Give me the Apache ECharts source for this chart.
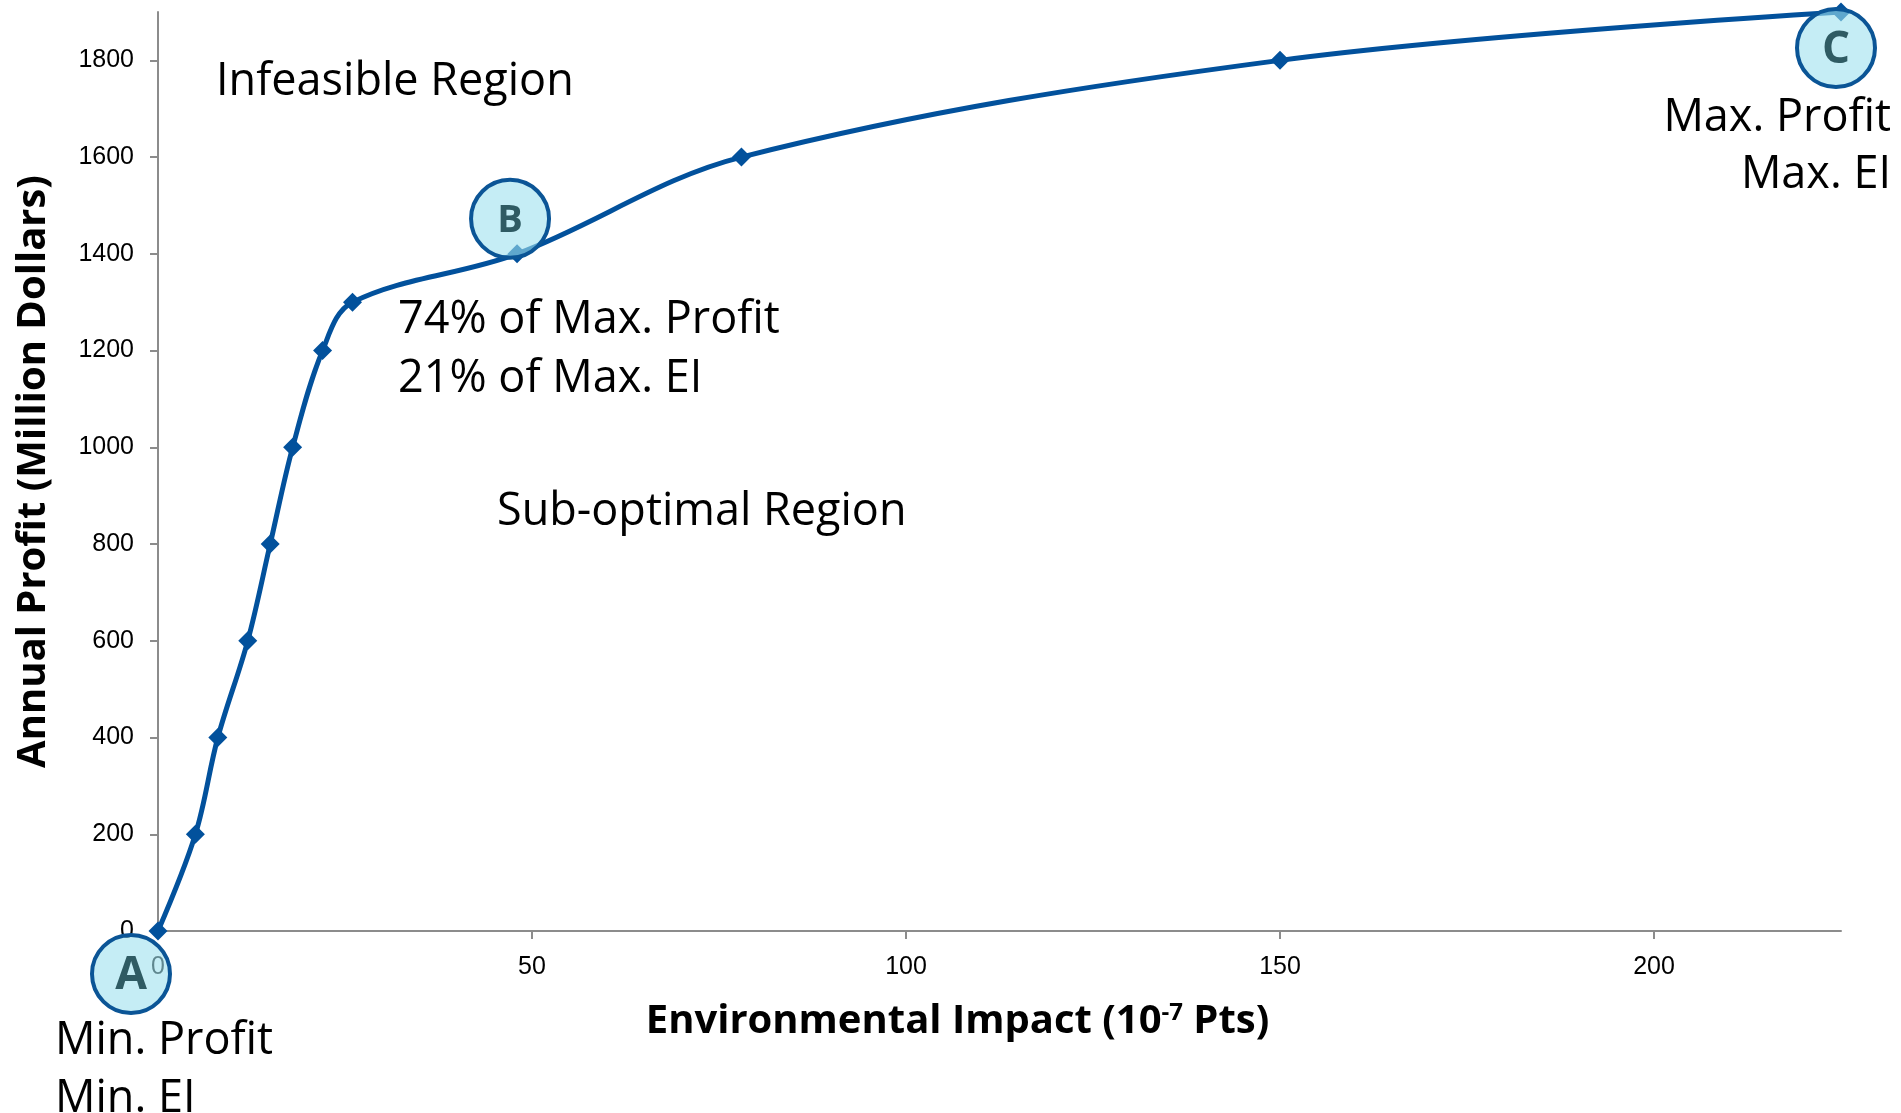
<!DOCTYPE html>
<html>
<head>
<meta charset="utf-8">
<script src="https://cdn.jsdelivr.net/npm/echarts@6/dist/echarts.min.js"></script>
<style>
html,body{margin:0;padding:0;background:#fff;}
#chart{width:1901px;height:1113px;}
</style>
</head>
<body>
<div id="chart"></div>
<script>
// ---- Data ----
var environmentalImpact = [0, 5, 8, 12, 15, 18, 22, 26, 48, 78, 150, 225];
var annualProfit       = [0, 200, 400, 600, 800, 1000, 1200, 1300, 1400, 1600, 1800, 1900];
var xTicks = [0, 50, 100, 150, 200];
var yTicks = [0, 200, 400, 600, 800, 1000, 1200, 1400, 1600, 1800];
var badgeLetters = ['A', 'B', 'C'];
var badgePointIndex = [0, 8, 11];

// ---- Layout / style config ----
var badgeStyle = {
  offsets: [[-27, 43], [-7, -35], [-5, 36]],
  fontSizes: [46, 38, 44],
  radius: 39
};
var LINE = '#02519c';

var chart = echarts.init(document.getElementById('chart'), null, {renderer: 'canvas'});

var lineData = environmentalImpact.map(function (x, i) { return [x, annualProfit[i]]; });
var badgeData = badgePointIndex.map(function (idx, i) {
  return [environmentalImpact[idx], annualProfit[idx], i];
});

function txt(text, x, y, align) {
  return {
    type: 'text', x: x, y: y + 4, z: 10,
    style: {
      text: text, align: align || 'left', verticalAlign: 'middle',
      font: '45px "Open Sans"', fill: '#000'
    }
  };
}
function plain(v) { return String(v); }

var option = {
  animation: false,
  backgroundColor: '#fff',
  grid: {left: 158, right: 60, top: 12, bottom: 182, containLabel: false},
  xAxis: {
    type: 'value', min: 0, max: 225, interval: 50,
    name: '{b|Environmental Impact (10}{s|-7}{b| Pts)}',
    nameLocation: 'middle', nameGap: 70,
    nameTextStyle: {
      padding: [0, 84, 0, 0],
      rich: {
        b: {fontFamily: 'Open Sans', fontWeight: 'bold', fontSize: 40, color: '#000'},
        s: {fontFamily: 'Open Sans', fontWeight: 'bold', fontSize: 24, color: '#000', verticalAlign: 'top', padding: [0, 0, 18, 0]}
      }
    },
    axisLine: {lineStyle: {color: '#8c8c8c', width: 2}},
    axisTick: {show: true, length: 8, customValues: xTicks, lineStyle: {color: '#8c8c8c', width: 2}},
    axisLabel: {customValues: xTicks, formatter: plain, margin: 24, fontFamily: 'Liberation Sans', fontSize: 25, color: '#000'},
    splitLine: {show: false}
  },
  yAxis: {
    type: 'value', min: 0, max: 1900, interval: 200,
    name: 'Annual Profit (Million Dollars)',
    nameLocation: 'middle', nameGap: 104,
    nameTextStyle: {fontFamily: 'Open Sans', fontWeight: 'bold', fontSize: 40, color: '#000'},
    axisLine: {show: true, lineStyle: {color: '#8c8c8c', width: 2}},
    axisTick: {show: true, length: 8, customValues: yTicks, lineStyle: {color: '#8c8c8c', width: 2}},
    axisLabel: {customValues: yTicks, formatter: plain, margin: 24, fontFamily: 'Liberation Sans', fontSize: 25, color: '#000'},
    splitLine: {show: false}
  },
  series: [
    {
      type: 'line',
      data: lineData,
      smooth: 0.35,
      clip: false,
      symbol: 'diamond',
      symbolSize: 19,
      lineStyle: {color: LINE, width: 5},
      itemStyle: {color: LINE},
      z: 3
    },
    {
      type: 'custom',
      coordinateSystem: 'cartesian2d',
      clip: false,
      z: 5,
      data: badgeData,
      renderItem: function (params, api) {
        var i = api.value(2);
        var p = api.coord([api.value(0), api.value(1)]);
        var cx = p[0] + badgeStyle.offsets[i][0];
        var cy = p[1] + badgeStyle.offsets[i][1];
        return {
          type: 'group',
          children: [
            {type: 'circle', shape: {cx: cx, cy: cy, r: badgeStyle.radius},
             style: {fill: 'rgba(158,225,238,0.6)', stroke: '#0b5596', lineWidth: 4}},
            {type: 'text', x: cx, y: cy + 2,
             style: {text: badgeLetters[i], align: 'center', verticalAlign: 'middle',
                     font: 'bold ' + badgeStyle.fontSizes[i] + 'px "Open Sans"', fill: '#2f5b63'}}
          ]
        };
      }
    }
  ],
  graphic: [
    txt('Infeasible Region', 216, 78),
    txt('74% of Max. Profit', 398, 316),
    txt('21% of Max. EI', 398, 375),
    txt('Sub-optimal Region', 497, 508),
    txt('Max. Profit', 1891, 114, 'right'),
    txt('Max. EI', 1891, 171, 'right'),
    txt('Min. Profit', 55, 1037),
    txt('Min. EI', 55, 1095)
  ]
};
chart.setOption(option);
</script>
</body>
</html>
